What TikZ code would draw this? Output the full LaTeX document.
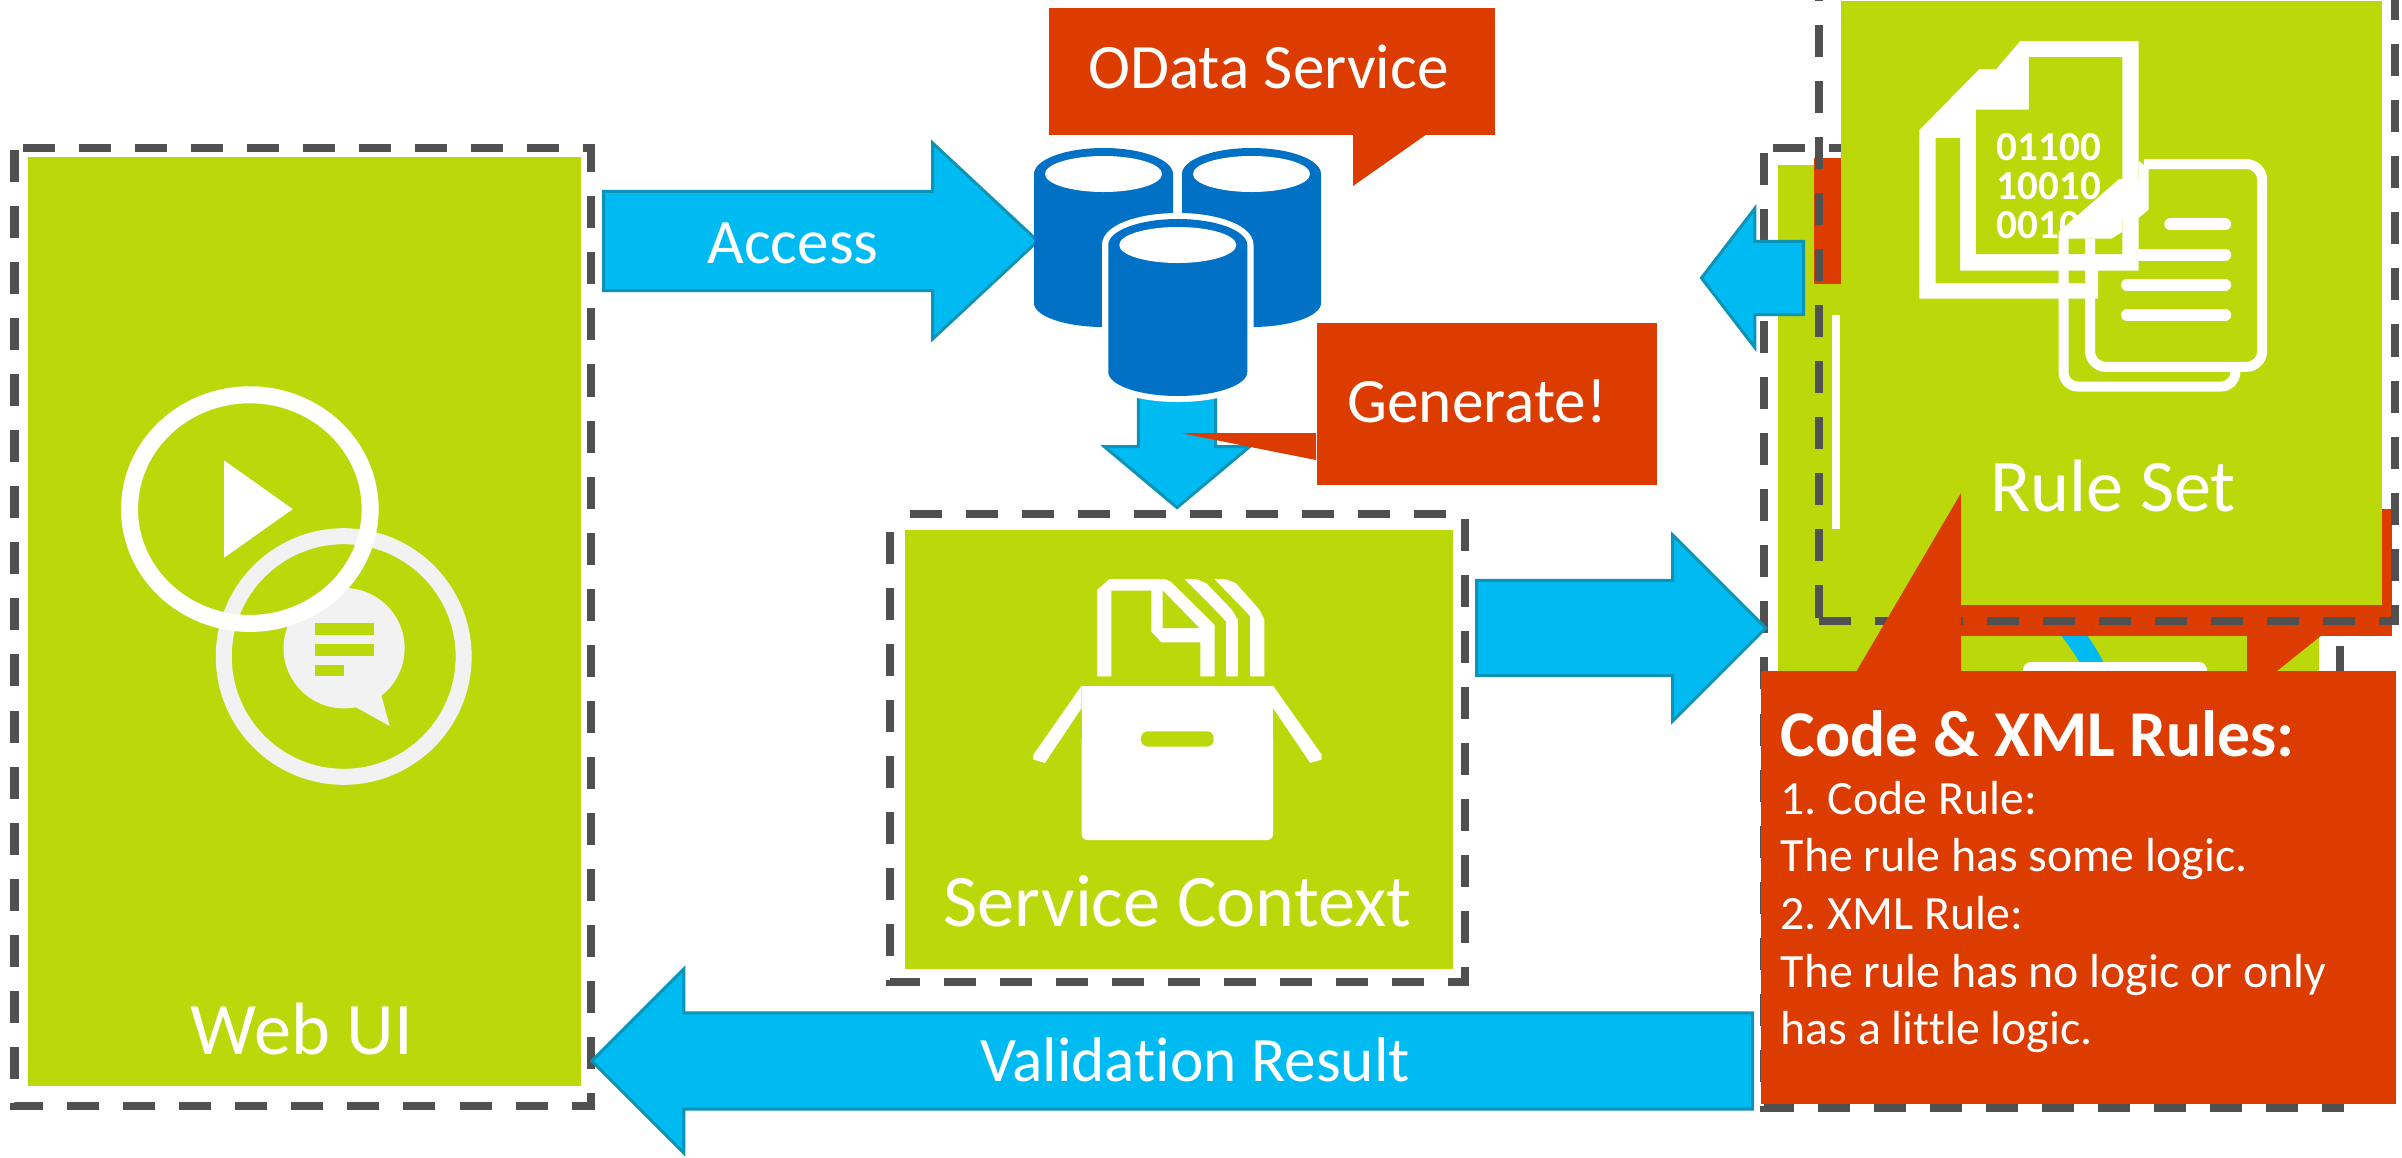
\documentclass[tikz,border=0pt]{standalone}
\usepackage{fontspec}
\setmainfont{Carlito}[Ligatures=NoCommon]
\usetikzlibrary{shapes.arrows}
\definecolor{leaf}{HTML}{BBD90A}
\definecolor{brick}{HTML}{DC3C00}
\definecolor{sky}{HTML}{00BBF2}
\definecolor{skyline}{HTML}{0D93B7}
\definecolor{drum}{HTML}{0071C5}
\definecolor{frame}{HTML}{505050}
\definecolor{pale}{HTML}{F2F2F2}
\tikzset{
    panel/.style={fill=leaf,anchor=north west,inner sep=0pt},
    bubble/.style={fill=brick,anchor=north west,inner sep=0pt},
    dashframe/.style={draw=frame,line width=.08cm,dash pattern=on .32cm off .24cm},
    blockarrow/.style={single arrow,fill=sky,draw=skyline,line width=.03cm,inner xsep=0pt,anchor=tail},
    bigtext/.style={text=white,anchor=base,inner sep=0pt,font=\fontsize{21.1}{25}\selectfont},
    midtext/.style={text=white,anchor=base,inner sep=0pt,font=\fontsize{18}{22}\selectfont},
    bitstext/.style={text=white,anchor=base west,inner sep=0pt,font=\bfseries\fontsize{11.7}{14}\selectfont}
}
\newcommand{\drumbody}[4]{%
    \fill[#4] (#1-69.5,#2+26) arc[start angle=180,end angle=360,x radius=69.5,y radius=26]
        -- (#1+69.5,#3-24) arc[start angle=0,end angle=180,x radius=69.5,y radius=24] -- cycle;
}
\begin{document}
\begin{tikzpicture}[x=.01cm,y=-.01cm]
    \useasboundingbox (0,0) rectangle (2402,1157);

    \draw[dashframe,dash phase=.48cm] (14.5,148) -- (590.5,148) -- (590.5,1106) -- (14.5,1106) -- cycle;
    \node[panel,minimum width=5.53cm,minimum height=9.29cm] (webpanel) at (27,156) {};
    \node[bigtext] (webtext) at (302,1054) {Web UI};
    \begin{scope}[shift={(0,350)},x=.003827cm,y=-.00333cm]
        \draw[pale,line width=.16cm] (897,921) ellipse[x radius=313,y radius=361.5];
        \fill[pale] (898,896) ellipse[x radius=158,y radius=181];
        \fill[pale] (995,1037) -- (1017,1130) -- (928,1073) -- cycle;
        \fill[leaf] (821,819) rectangle (976,855);
        \fill[leaf] (821,882) rectangle (976,918);
        \fill[leaf] (821,945) rectangle (899,981);
        \draw[white,line width=.17cm] (652,478) ellipse[x radius=314,y radius=343.5];
        \fill[white] (585,332) -- (764,478) -- (585,624) -- cycle;
    \end{scope}

    \node[blockarrow,minimum height=4.34cm,inner ysep=.48cm,single arrow head extend=.485cm,
        single arrow tip angle=86] (access) at (602,241) {};
    \node[midtext] (accesstext) at (793,263.5) {Access};

    \node[blockarrow,rotate=-90,minimum height=1.26cm,inner ysep=.37cm,single arrow head extend=.34cm,
        single arrow tip angle=100] (generate) at (1177,380) {};

    \drumbody{1103.5}{148}{327}{drum}
    \fill[white] (1103.5,174) ellipse[x radius=58.5,y radius=18];
    \drumbody{1251.5}{148}{327}{drum}
    \fill[white] (1251.5,174) ellipse[x radius=58.5,y radius=18];
    \draw[white,line width=.12cm] (1108,245) arc[start angle=180,end angle=360,x radius=69.75,y radius=26] -- (1247.5,373)
        arc[start angle=0,end angle=180,x radius=69.75,y radius=23] -- cycle;
    \drumbody{1177.75}{219}{396}{drum}
    \fill[white] (1177.75,245) ellipse[x radius=58.5,y radius=18];

    \node[bubble,minimum width=4.455cm,minimum height=1.27cm] (odatabox) at (1048.5,7) {};
    \fill[brick] (1353,134) -- (1353,186) -- (1427,134) -- cycle;
    \node[midtext] (odatatext) at (1268.5,88) {OData Service};
    \node[bubble,minimum width=3.4cm,minimum height=1.62cm] (generatebox) at (1316,322) {};
    \fill[brick] (1316,433) -- (1180,433) -- (1316,460) -- cycle;
    \node[midtext] (generatetext) at (1477,422) {Generate!};

    \draw[dashframe,dash phase=.36cm] (889.5,514) -- (1465,514) -- (1465,982) -- (889.5,982) -- cycle;
    \node[panel,minimum width=5.48cm,minimum height=4.39cm] (contextpanel) at (904,529) {};
    \node[bigtext] (contexttext) at (1177.5,926) {Service Context};
    \begin{scope}[shift={(880,500)},x=.003954cm,y=-.00333cm]
        \fill[white] (549,530) -- (549,270) -- (580,238) -- (720,238) -- (735,245) -- (846,375) -- (846,530)
            -- (810,530) -- (810,428) -- (712,428) -- (686,395) -- (686,272) -- (585,272) -- (585,530) -- cycle;
        \fill[leaf] (715,272) -- (808,385) -- (715,385) -- cycle;
        \fill[white] (770,238) -- (800,238) -- (825,250) -- (890,330) -- (905,360) -- (905,530) -- (875,530)
            -- (875,365) -- (860,345) -- cycle;
        \fill[white] (846,238) -- (875,238) -- (900,250) -- (960,330) -- (972,360) -- (972,530) -- (936,530)
            -- (936,350) -- (925,335) -- cycle;
        \fill[white,rounded corners=.06cm] (510,700) -- (510,1022) -- (994,1022) -- (994,700) -- cycle;
        \fill[white] (510,558) -- (994,558) -- (994,720) -- (510,720) -- cycle;
        \fill[white] (510,558) -- (388,765) -- (388,780) -- (417,790) -- (510,625) -- cycle;
        \fill[white] (994,558) -- (1117,765) -- (1117,780) -- (1088,790) -- (994,625) -- cycle;
        \fill[leaf,rounded corners=.07cm] (660,695) rectangle (844,741);
    \end{scope}

    \draw[dashframe,dash phase=.47cm] (1764,148) -- (2340,148) -- (2340,1108) -- (1764,1108) -- cycle;
    \node[panel,minimum width=5.41cm,minimum height=5.5cm] (rulepanel) at (1777,164) {};
    \draw[sky,line width=.21cm] (2050,605) .. controls (2075,635) and (2090,655) .. (2100,680);
    \fill[white,rounded corners=.08cm] (2023,690) -- (2023,662) -- (2207,662) -- (2207,690) -- cycle;
    \fill[white] (1832,315) rectangle (1840,529);
    \node[bubble,minimum width=.6cm,minimum height=1.26cm] (hiddenbox) at (1813,157) {};
    \node[bubble,minimum width=4.61cm,minimum height=1.27cm] (strayedbox) at (1930,508) {};
    \fill[brick] (2247,630) -- (2247,675) -- (2272,675) -- (2322,635) -- (2322,630) -- cycle;

    \draw[dashframe] (1819,621) -- (2395,621) -- (2395,0);
    \draw[dashframe,dash phase=.525cm] (1819,621) -- (1819,0);
    \node[panel,minimum width=5.41cm,minimum height=6.04cm] (setpanel) at (1840,0) {};
    \node[bigtext] (settext) at (2113,511) {Rule Set};
    \begin{scope}[shift={(1650,0)},x=.0048cm,y=-.00446cm]
        \fill[white] (560,292) -- (685,155) -- (720,155) -- (770,92) -- (1016,92) -- (1016,607) -- (932,607)
            -- (932,670) -- (560,670) -- cycle;
        \fill[leaf] (594,310) -- (645,310) -- (645,607) -- (905,607) -- (905,635) -- (594,635) -- cycle;
        \fill[leaf] (788,128) -- (982,128) -- (982,570) -- (678,570) -- (678,246) -- (788,246) -- cycle;
        \node[bitstext] (bitsa) at (720,361) {01100};
        \node[bitstext] (bitsb) at (720,448) {10010};
        \node[bitstext] (bitsc) at (720,535) {00100};
        \draw[white,line width=.1cm,rounded corners=.16cm] (1027,368) -- (1273,368) -- (1273,823) -- (915,823) -- (915,535);
        \draw[white,line width=.1cm,rounded corners=.14cm] (860,525) -- (860,867) -- (1217,867) -- (1217,834);
        \fill[white] (850,520) -- (975,402) -- (1016,402) -- (1016,360) -- (1037,380) -- (1037,470) -- (1015,490)
            -- (982,490) -- (982,520) -- (960,535) -- (850,535) -- cycle;
        \draw[white,line width=.12cm,line cap=round] (1082,503) -- (1196,503);
        \draw[white,line width=.12cm,line cap=round] (1016,571) -- (1196,571);
        \draw[white,line width=.12cm,line cap=round] (992,639) -- (1196,639);
        \draw[white,line width=.12cm,line cap=round] (992,707) -- (1196,707);
    \end{scope}

    \node[blockarrow,rotate=180,minimum height=1.02cm,inner ysep=.35cm,single arrow head extend=.33cm,
        single arrow tip angle=105] (backarrow) at (1805,278) {};
    \node[blockarrow,minimum height=2.89cm,inner ysep=.46cm,single arrow head extend=.455cm] (rightarrow) at (1475,628) {};
    \node[blockarrow,rotate=180,minimum height=11.6cm,inner ysep=.465cm,single arrow head extend=.44cm] (validation) at (1754,1061) {};
    \node[midtext] (validationtext) at (1195,1081) {Validation Result};

    \fill[brick] (1856,672) -- (1961,493) -- (1961,672) -- cycle;
    \node[bubble,minimum width=6.35cm,minimum height=4.33cm] (codebox) at (1760,670) {};
    \node[anchor=north west,inner sep=0pt,text=white,align=flush left,text width=5.95cm,
        font=\frenchspacing\fontsize{13.6}{16.4}\selectfont] (codetext) at (1780,710)
        {{\bfseries\fontsize{18.6}{16.4}\selectfont Code \& XML Rules:}\\
        1. Code Rule:\\
        The rule has some logic.\\
        2. XML Rule:\\
        The rule has no logic or only\\
        has a little logic.};
\end{tikzpicture}
\end{document}
